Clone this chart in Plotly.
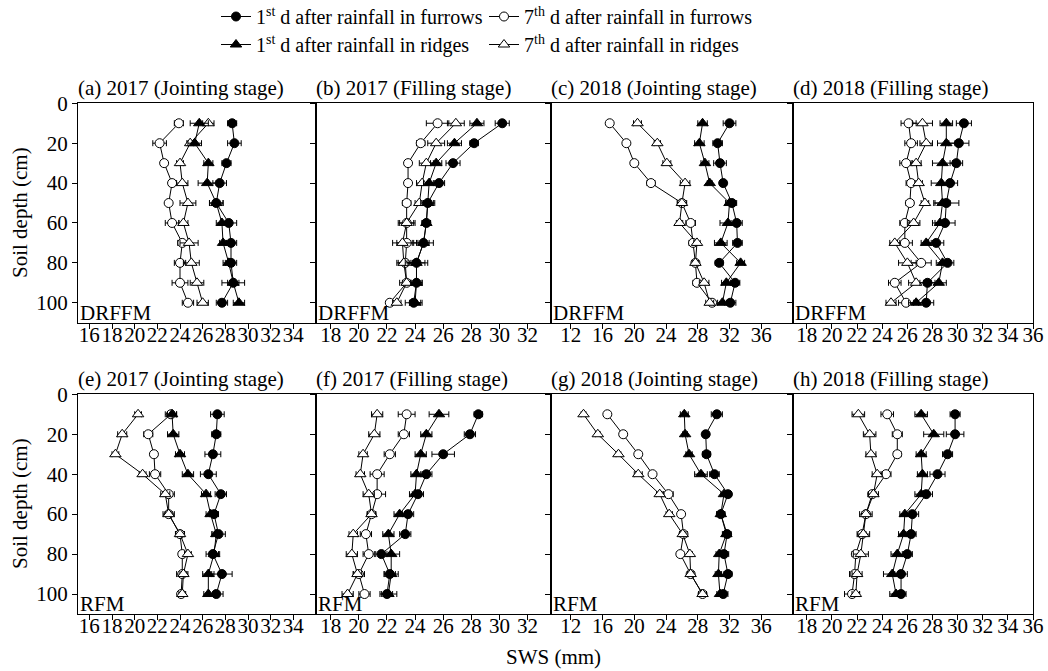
import plotly.graph_objects as go
from plotly.subplots import make_subplots

DEPTH = [10, 20, 30, 40, 50, 60, 70, 80, 90, 100]

# (a) 2017 Jointing, DRFFM
a_fur1 = [28.6, 28.8, 28.1, 27.5, 27.2, 28.3, 28.5, 28.5, 28.7, 27.7]
a_fur1_err = [0.4, 0.6, 0.4, 0.6, 0.6, 0.7, 0.5, 0.5, 1.0, 0.5]
a_rid1 = [25.7, 25.3, 26.5, 26.4, 27.2, 27.7, 27.8, 28.3, 28.7, 29.2]
a_rid1_err = [0.8, 0.6, 0.4, 0.8, 0.6, 0.5, 0.3, 0.5, 0.5, 0.5]
a_fur7 = [23.9, 22.2, 22.6, 23.3, 23.0, 23.3, 24.2, 24.0, 24.0, 24.7]
a_fur7_err = [0.4, 0.6, 0.3, 0.3, 0.2, 0.6, 0.4, 0.5, 0.7, 0.5]
a_rid7 = [26.5, 24.9, 24.0, 24.2, 24.7, 24.3, 24.8, 25.0, 25.5, 26.0]
a_rid7_err = [0.5, 0.3, 0.3, 0.5, 0.7, 0.4, 0.8, 0.7, 0.6, 0.5]

# (b) 2017 Filling, DRFFM
b_fur1 = [30.2, 28.2, 26.7, 25.7, 24.9, 24.8, 24.6, 24.1, 24.1, 23.9]
b_fur1_err = [0.5, 0.3, 0.5, 0.4, 0.5, 0.3, 0.7, 0.6, 0.4, 0.6]
b_rid1 = [28.4, 26.8, 25.5, 25.0, 24.9, 24.8, 24.6, 24.1, 24.1, 24.0]
b_rid1_err = [0.5, 0.5, 0.4, 0.4, 0.4, 0.3, 0.4, 0.8, 0.4, 0.4]
b_fur7 = [25.6, 24.4, 23.5, 23.5, 23.4, 23.4, 23.4, 23.3, 23.4, 22.2]
b_fur7_err = [0.8, 0.3, 0.2, 0.2, 0.3, 0.5, 0.7, 0.5, 0.3, 0.2]
b_rid7 = [26.9, 25.5, 24.8, 24.5, 24.3, 23.4, 23.1, 23.2, 23.4, 22.7]
b_rid7_err = [0.6, 0.6, 0.5, 0.4, 0.3, 0.6, 0.7, 0.5, 0.5, 0.3]

# (c) 2018 Jointing, DRFFM
c_fur1 = [32.0, 30.5, 30.8, 31.2, 32.3, 32.9, 33.0, 30.7, 32.7, 32.1]
c_fur1_err = [0.8, 0.6, 0.8, 0.4, 0.6, 0.7, 0.6, 0.5, 0.6, 0.7]
c_rid1 = [28.6, 28.2, 28.9, 29.5, 32.0, 31.8, 30.9, 33.4, 31.6, 31.1]
c_rid1_err = [0.6, 0.6, 0.5, 0.3, 0.5, 1.0, 0.8, 0.5, 0.6, 0.6]
c_fur7 = [16.9, 19.0, 20.0, 22.1, 26.0, 27.1, 27.4, 27.7, 27.9, 29.8]
c_fur7_err = [0.2, 0.3, 0.3, 0.5, 0.4, 0.6, 0.5, 0.4, 0.5, 0.4]
c_rid7 = [20.4, 22.9, 24.1, 26.4, 26.0, 25.7, 27.9, 27.7, 28.8, 29.5]
c_rid7_err = [0.5, 0.4, 0.5, 0.6, 0.6, 0.4, 0.4, 0.4, 0.6, 0.5]

# (d) 2018 Filling, DRFFM
d_fur1 = [30.5, 30.1, 29.9, 29.4, 29.1, 29.0, 28.3, 29.2, 27.6, 27.5]
d_fur1_err = [0.6, 0.8, 0.5, 0.6, 1.0, 0.8, 0.6, 0.5, 0.6, 0.6]
d_rid1 = [29.1, 29.1, 28.8, 28.7, 28.8, 28.6, 27.5, 28.8, 28.5, 26.7]
d_rid1_err = [0.5, 0.7, 0.8, 0.8, 0.6, 0.6, 0.4, 0.5, 0.6, 0.6]
d_fur7 = [26.1, 26.3, 25.9, 26.3, 26.2, 25.8, 25.8, 27.1, 25.0, 25.9]
d_fur7_err = [0.6, 0.5, 0.5, 0.4, 0.3, 0.4, 0.6, 0.8, 0.5, 0.6]
d_rid7 = [27.2, 27.5, 26.7, 26.9, 27.4, 26.5, 25.0, 26.0, 26.7, 24.7]
d_rid7_err = [0.8, 0.5, 0.4, 0.3, 0.3, 0.5, 0.4, 0.7, 0.6, 0.4]

# (e) 2017 Jointing, RFM
e_fur1 = [27.3, 27.2, 26.9, 26.5, 27.6, 27.0, 27.4, 26.9, 27.7, 27.2]
e_fur1_err = [0.6, 0.4, 0.7, 0.7, 0.5, 0.4, 0.6, 0.6, 0.9, 0.6]
e_rid1 = [23.3, 23.4, 24.0, 24.7, 26.3, 26.7, 27.2, 27.0, 26.5, 26.5]
e_rid1_err = [0.4, 0.5, 0.4, 0.5, 0.4, 0.4, 0.3, 0.4, 0.5, 0.4]
e_fur7 = [23.2, 21.2, 21.7, 21.8, 23.0, 23.0, 24.0, 24.2, 24.2, 24.1]
e_fur7_err = [0.5, 0.4, 0.3, 0.5, 0.5, 0.5, 0.4, 0.3, 0.5, 0.3]
e_rid7 = [20.3, 18.9, 18.3, 20.7, 22.7, 23.0, 24.0, 24.7, 24.3, 24.2]
e_rid7_err = [0.3, 0.4, 0.3, 0.3, 0.4, 0.3, 0.4, 0.3, 0.3, 0.3]

# (f) 2017 Filling, RFM
f_fur1 = [28.5, 27.9, 26.0, 24.8, 24.2, 23.5, 23.3, 21.6, 22.2, 22.0]
f_fur1_err = [0.3, 0.4, 0.8, 0.4, 0.4, 0.4, 0.4, 0.4, 0.4, 0.4]
f_rid1 = [25.7, 24.8, 24.4, 24.1, 24.0, 22.9, 22.1, 22.3, 22.3, 22.1]
f_rid1_err = [0.7, 0.4, 0.4, 0.4, 0.4, 0.4, 0.4, 0.6, 0.5, 0.6]
f_fur7 = [23.4, 23.2, 22.2, 21.3, 21.3, 20.9, 20.5, 20.7, 20.0, 20.4]
f_fur7_err = [0.6, 0.4, 0.4, 0.5, 0.6, 0.3, 0.4, 0.4, 0.4, 0.4]
f_rid7 = [21.3, 21.1, 20.3, 20.1, 20.7, 20.9, 19.6, 19.5, 19.9, 19.2]
f_rid7_err = [0.4, 0.4, 0.3, 0.3, 0.4, 0.3, 0.3, 0.4, 0.3, 0.4]

# (g) 2018 Jointing, RFM
g_fur1 = [30.4, 29.0, 29.1, 30.1, 31.8, 30.9, 31.7, 31.3, 31.8, 31.2]
g_fur1_err = [0.7, 0.4, 0.5, 0.6, 0.4, 0.5, 0.5, 0.6, 0.5, 0.6]
g_rid1 = [26.3, 26.4, 26.9, 28.4, 31.3, 30.9, 31.6, 30.7, 30.6, 30.8]
g_rid1_err = [0.5, 0.3, 0.4, 0.8, 0.4, 0.5, 0.5, 0.4, 0.4, 0.4]
g_fur7 = [16.6, 18.6, 20.5, 22.3, 24.3, 25.9, 26.2, 25.8, 27.1, 28.6]
g_fur7_err = [0.3, 0.4, 0.3, 0.3, 0.6, 0.3, 0.5, 0.4, 0.3, 0.5]
g_rid7 = [13.6, 15.4, 18.0, 20.5, 23.2, 24.4, 26.1, 27.0, 27.1, 28.6]
g_rid7_err = [0.3, 0.3, 0.3, 0.5, 0.4, 0.4, 0.4, 0.3, 0.4, 0.5]

# (h) 2018 Filling, RFM
h_fur1 = [29.8, 29.8, 29.2, 28.4, 27.5, 26.4, 26.3, 26.0, 25.5, 25.5]
h_fur1_err = [0.4, 0.7, 0.4, 0.6, 0.5, 0.5, 0.4, 0.4, 0.5, 0.4]
h_rid1 = [27.1, 28.1, 27.1, 27.2, 27.1, 25.8, 25.7, 25.2, 24.8, 25.1]
h_rid1_err = [0.5, 0.8, 0.4, 0.4, 0.5, 0.4, 0.4, 0.5, 0.7, 0.5]
h_fur7 = [24.4, 25.2, 25.2, 24.3, 23.2, 22.7, 22.4, 21.9, 21.8, 21.6]
h_fur7_err = [0.5, 0.4, 0.3, 0.4, 0.3, 0.3, 0.3, 0.3, 0.4, 0.6]
h_rid7 = [22.1, 23.0, 23.1, 23.6, 23.3, 22.7, 22.5, 22.3, 22.0, 21.9]
h_rid7_err = [0.5, 0.5, 0.4, 0.4, 0.4, 0.5, 0.5, 0.6, 0.4, 0.3]

TITLES = ["(a) 2017 (Jointing stage)", "(b) 2017 (Filling stage)",
          "(c) 2018 (Jointing stage)", "(d) 2018 (Filling stage)",
          "(e) 2017 (Jointing stage)", "(f) 2017 (Filling stage)",
          "(g) 2018 (Jointing stage)", "(h) 2018 (Filling stage)"]
TREAT = ["DRFFM"] * 4 + ["RFM"] * 4
SERIES_NAMES = ["1<sup>st</sup> d after rainfall in furrows",
                "7<sup>th</sup> d after rainfall in furrows",
                "1<sup>st</sup> d after rainfall in ridges",
                "7<sup>th</sup> d after rainfall in ridges"]
X_TICKS = [list(range(16, 35, 2)), list(range(18, 33, 2)),
           list(range(12, 37, 4)), list(range(18, 37, 2))]
X_RANGES = [[15, 36], [16.95, 33.67], [9.5, 40], [16.9, 36]]

PANEL_DATA = [
    (a_fur1, a_fur1_err, a_fur7, a_fur7_err, a_rid1, a_rid1_err, a_rid7, a_rid7_err),
    (b_fur1, b_fur1_err, b_fur7, b_fur7_err, b_rid1, b_rid1_err, b_rid7, b_rid7_err),
    (c_fur1, c_fur1_err, c_fur7, c_fur7_err, c_rid1, c_rid1_err, c_rid7, c_rid7_err),
    (d_fur1, d_fur1_err, d_fur7, d_fur7_err, d_rid1, d_rid1_err, d_rid7, d_rid7_err),
    (e_fur1, e_fur1_err, e_fur7, e_fur7_err, e_rid1, e_rid1_err, e_rid7, e_rid7_err),
    (f_fur1, f_fur1_err, f_fur7, f_fur7_err, f_rid1, f_rid1_err, f_rid7, f_rid7_err),
    (g_fur1, g_fur1_err, g_fur7, g_fur7_err, g_rid1, g_rid1_err, g_rid7, g_rid7_err),
    (h_fur1, h_fur1_err, h_fur7, h_fur7_err, h_rid1, h_rid1_err, h_rid7, h_rid7_err),
]

FONT = "Liberation Serif"
FS = 21

# one legend box per legend cell (2 columns x 2 rows)
STYLES = [
    dict(symbol="circle", color="black", size=9, legend="legend"),
    dict(symbol="circle", color="white", size=9, legend="legend2"),
    dict(symbol="triangle-up", color="black", size=10, legend="legend3"),
    dict(symbol="triangle-up", color="white", size=10, legend="legend4"),
]

fig = make_subplots(rows=2, cols=4)

W, H = 1048, 671
ML, MR, MT, MB = 78, 15, 103, 57
PW = W - ML - MR
PH = H - MT - MB

def px_x(px):
    return (px - ML) / PW

def px_y(py):
    return (H - MB - py) / PH

COL_EDGES = [78, 316, 551, 793, 1033]
ROW_EDGES = [(103.3, 322.7), (394.3, 614)]

draw_order = [1, 3, 2, 0]
for p in range(8):
    row = p // 4 + 1
    col = p % 4 + 1
    vals = PANEL_DATA[p]
    for s in draw_order:
        st = STYLES[s]
        fig.add_trace(go.Scatter(
            x=vals[2 * s], y=DEPTH, mode="lines+markers",
            name=SERIES_NAMES[s], legend=st["legend"],
            showlegend=(p == 0),
            line=dict(color="black", width=1),
            marker=dict(symbol=st["symbol"], size=st["size"], color=st["color"],
                        line=dict(color="black", width=1)),
            error_x=dict(type="data", array=vals[2 * s + 1], color="black",
                         thickness=1, width=3),
        ), row=row, col=col)

for p in range(8):
    row = p // 4
    col = p % 4
    idx = p + 1
    xa = "xaxis" if idx == 1 else f"xaxis{idx}"
    ya = "yaxis" if idx == 1 else f"yaxis{idx}"
    x0 = px_x(COL_EDGES[col])
    x1 = px_x(COL_EDGES[col + 1])
    top, bot = ROW_EDGES[row]
    y0 = px_y(bot)
    y1 = px_y(top)
    fig.layout[xa].update(
        domain=[max(0, x0), min(1, x1)], range=X_RANGES[col], automargin=False,
        tickmode="array", tickvals=X_TICKS[col], tickangle=0,
        ticktext=[str(v) for v in X_TICKS[col]], ticklabelstandoff=-12,
        ticks="outside", ticklen=5, tickwidth=1, tickcolor="black",
        showline=True, linecolor="black", linewidth=1, mirror=True,
        showgrid=False, zeroline=False,
        tickfont=dict(family=FONT, size=FS, color="black"))
    fig.layout[ya].update(
        domain=[max(0, y0), min(1, y1)], range=[110, 0], automargin=False,
        tickmode="array", tickvals=[0, 20, 40, 60, 80, 100],
        showticklabels=(col == 0),
        ticks="outside", ticklen=5, tickwidth=1, tickcolor="black",
        showline=True, linecolor="black", linewidth=1, mirror=True,
        showgrid=False, zeroline=False,
        tickfont=dict(family=FONT, size=FS, color="black"))
    fig.add_annotation(text=TITLES[p], xref="paper", yref="paper",
                       x=max(0, x0), y=min(1, y1), xanchor="left", yanchor="bottom",
                       xshift=-2, yshift=1, showarrow=False,
                       font=dict(family=FONT, size=FS, color="black"))
    fig.add_annotation(text=TREAT[p], xref="paper", yref="paper",
                       x=max(0, x0), y=y0, xanchor="left", yanchor="bottom",
                       xshift=0, yshift=-4, showarrow=False,
                       font=dict(family=FONT, size=FS, color="black"))

fig.add_annotation(text="Soil depth (cm)", xref="paper", yref="paper",
                   x=px_x(20), y=px_y(213), textangle=-90, showarrow=False,
                   xanchor="center", yanchor="middle",
                   font=dict(family=FONT, size=FS, color="black"))
fig.add_annotation(text="Soil depth (cm)", xref="paper", yref="paper",
                   x=px_x(20), y=px_y(504), textangle=-90, showarrow=False,
                   xanchor="center", yanchor="middle",
                   font=dict(family=FONT, size=FS, color="black"))
fig.add_annotation(text="SWS (mm)", xref="paper", yref="paper",
                   x=px_x(553), y=px_y(657), showarrow=False,
                   xanchor="center", yanchor="middle",
                   font=dict(family=FONT, size=FS, color="black"))

legend_common = dict(orientation="v", xanchor="left", yanchor="top",
                     bgcolor="rgba(0,0,0,0)", itemwidth=30,
                     font=dict(family=FONT, size=20, color="black"),
                     traceorder="normal")
fig.update_layout(
    width=W, height=H,
    margin=dict(l=ML, r=MR, t=MT, b=MB, autoexpand=False),
    paper_bgcolor="white", plot_bgcolor="white",
    showlegend=True,
    legend=dict(x=px_x(216), y=px_y(-3), **legend_common),
    legend2=dict(x=px_x(484), y=px_y(-3), **legend_common),
    legend3=dict(x=px_x(216), y=px_y(25), **legend_common),
    legend4=dict(x=px_x(484), y=px_y(25), **legend_common),
)

fig.write_html("out.html", config={"displayModeBar": False},
               post_script="document.body.style.margin='0px';")
